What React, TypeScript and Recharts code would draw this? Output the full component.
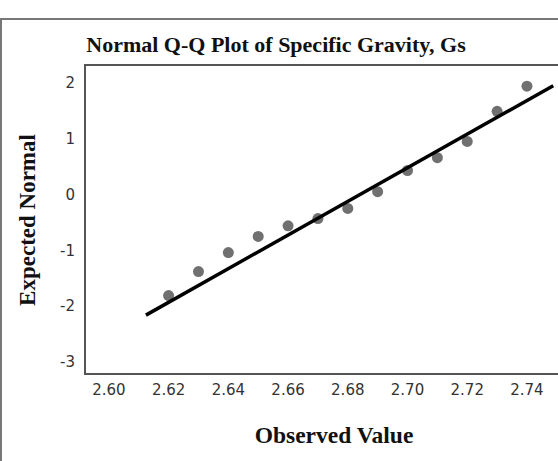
import React from "react";
import {
  ScatterChart,
  Scatter,
  XAxis,
  YAxis,
  ReferenceArea,
} from "recharts";

// observed specific gravity values and their expected normal scores
const observed = [2.62, 2.63, 2.64, 2.65, 2.66, 2.67, 2.68, 2.69, 2.7, 2.71, 2.72, 2.73, 2.74];
const expected = [-1.81, -1.38, -1.04, -0.75, -0.56, -0.43, -0.25, 0.05, 0.43, 0.66, 0.95, 1.49, 1.94];

// reference line end points (observed, expected)
const lineX = [2.6124, 2.7488];
const lineY = [-2.16, 1.95];

const xTicks = [2.6, 2.62, 2.64, 2.66, 2.68, 2.7, 2.72, 2.74];
const yTicks = [-3, -2, -1, 0, 1, 2];
const xDomain = [2.592, 2.7591];
const yDomain = [-3.215, 2.32];

const points = observed.map((x, i) => ({ x, y: expected[i] }));
const lineData = lineX.map((x, i) => ({ x, y: lineY[i] }));

const serif = "'Liberation Serif', 'Times New Roman', serif";
const sans = "'DejaVu Sans', sans-serif";

const Dot = (props: any) => (
  <circle cx={props.cx} cy={props.cy} r={5.5} fill="#707070" />
);

const tickStyle = { fontSize: 15, fill: "#333", fontFamily: sans };

export default function App() {
  return (
    <div
      style={{
        position: "absolute",
        left: 0,
        top: 0,
        width: 558,
        height: 461,
        overflow: "hidden",
        background: "#fff",
        fontFamily: sans,
      }}
    >
      {/* outer frame */}
      <div
        style={{
          position: "absolute",
          left: 0,
          top: 18,
          width: 620,
          height: 500,
          border: "2px solid #777",
          boxSizing: "border-box",
        }}
      />
      <div
        style={{
          position: "absolute",
          left: 0,
          top: 33,
          width: 552,
          textAlign: "center",
          fontFamily: serif,
          fontWeight: "bold",
          fontSize: 22,
          lineHeight: "24px",
          color: "#111",
        }}
      >
        Normal Q-Q Plot of Specific Gravity, Gs
      </div>
      <div style={{ position: "absolute", left: 0, top: 0 }}>
        <ScatterChart
          width={600}
          height={461}
          margin={{ top: 65, right: 16, bottom: 47, left: 0 }}
        >
          <XAxis
            type="number"
            dataKey="x"
            domain={xDomain}
            ticks={xTicks}
            allowDataOverflow
            tickFormatter={(v: number) => v.toFixed(2)}
            tick={tickStyle}
            tickLine={false}
            axisLine={false}
            tickMargin={4}
            height={40}
          />
          <YAxis
            type="number"
            dataKey="y"
            domain={yDomain}
            ticks={yTicks}
            allowDataOverflow
            tick={tickStyle}
            tickLine={false}
            axisLine={false}
            tickMargin={4}
            width={85}
          />
          <ReferenceArea
            x1={xDomain[0]}
            x2={xDomain[1]}
            y1={yDomain[0]}
            y2={yDomain[1]}
            fill="none"
            stroke="#555"
            strokeWidth={2}
            ifOverflow="visible"
          />
          <Scatter data={points} shape={Dot} isAnimationActive={false} />
          <Scatter
            data={lineData}
            line={{ stroke: "#000", strokeWidth: 3.5 }}
            lineType="joint"
            shape={() => <g />}
            isAnimationActive={false}
          />
        </ScatterChart>
      </div>
      <div
        style={{
          position: "absolute",
          left: 234,
          top: 423,
          width: 200,
          textAlign: "center",
          fontFamily: serif,
          fontWeight: "bold",
          fontSize: 23.5,
          lineHeight: "24px",
          color: "#111",
        }}
      >
        Observed Value
      </div>
      <div
        style={{
          position: "absolute",
          left: 28 - 100,
          top: 220 - 12,
          width: 200,
          textAlign: "center",
          transform: "rotate(-90deg)",
          fontFamily: serif,
          fontWeight: "bold",
          fontSize: 23,
          lineHeight: "24px",
          color: "#111",
        }}
      >
        Expected Normal
      </div>
    </div>
  );
}
